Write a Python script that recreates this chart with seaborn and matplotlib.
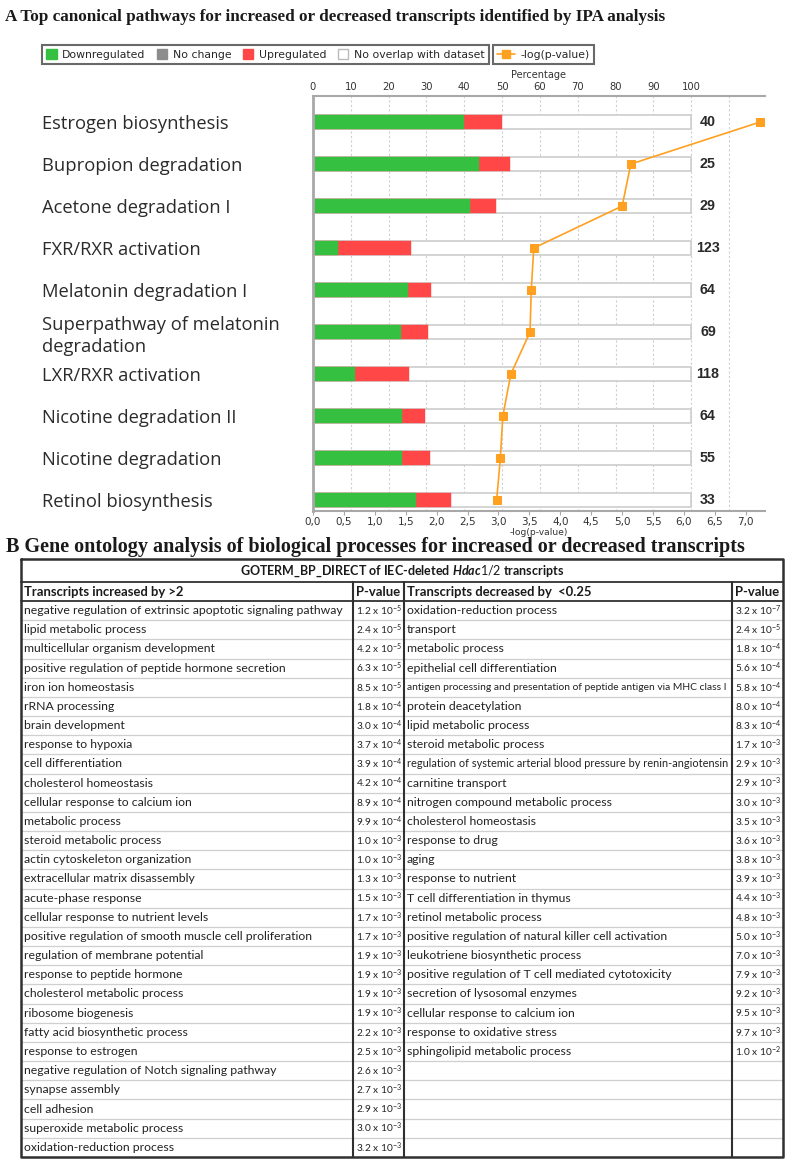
import numpy as np
import pandas as pd
import matplotlib
matplotlib.use("Agg")
import matplotlib.pyplot as plt
import seaborn as sns
from matplotlib.lines import Line2D
from matplotlib.patches import Patch

# ---------------- Panel A data (IPA canonical pathways) ----------------
pathways = ["Estrogen biosynthesis", "Bupropion degradation", "Acetone degradation I",
            "FXR/RXR activation", "Melatonin degradation I",
            "Superpathway of melatonin\ndegradation", "LXR/RXR activation",
            "Nicotine degradation II", "Nicotine degradation", "Retinol biosynthesis"]
pct_down = [40.0, 44.0, 41.4, 6.5, 25.0, 23.2, 11.0, 23.4, 23.6, 27.3]
pct_up = [10.0, 8.0, 6.9, 19.5, 6.3, 7.2, 14.4, 6.2, 7.3, 9.1]
n_molecules = [40, 25, 29, 123, 64, 69, 118, 64, 55, 33]
neg_log_p = [7.23, 5.14, 5.00, 3.57, 3.53, 3.51, 3.20, 3.07, 3.03, 2.97]
pct_ticks = [0, 10, 20, 30, 40, 50, 60, 70, 80, 90, 100, 110]
logp_ticks = [0, 0.5, 1, 1.5, 2, 2.5, 3, 3.5, 4, 4.5, 5, 5.5, 6, 6.5, 7]
legend_labels = ["Downregulated", "No change", "Upregulated", "No overlap with dataset"]

# ---------------- Panel B data (GO biological processes) ----------------
up_terms = ["negative regulation of extrinsic apoptotic signaling pathway",
            "lipid metabolic process", "multicellular organism development",
            "positive regulation of peptide hormone secretion", "iron ion homeostasis",
            "rRNA processing", "brain development", "response to hypoxia",
            "cell differentiation", "cholesterol homeostasis",
            "cellular response to calcium ion", "metabolic process",
            "steroid metabolic process", "actin cytoskeleton organization",
            "extracellular matrix disassembly", "acute-phase response",
            "cellular response to nutrient levels",
            "positive regulation of smooth muscle cell proliferation",
            "regulation of membrane potential", "response to peptide hormone",
            "cholesterol metabolic process", "ribosome biogenesis",
            "fatty acid biosynthetic process", "response to estrogen",
            "negative regulation of Notch signaling pathway", "synapse assembly",
            "cell adhesion", "superoxide metabolic process", "oxidation-reduction process"]
up_pvals = [1.2e-5, 2.4e-5, 4.2e-5, 6.3e-5, 8.5e-5, 1.8e-4, 3.0e-4, 3.7e-4, 3.9e-4,
            4.2e-4, 8.9e-4, 9.9e-4, 1.0e-3, 1.0e-3, 1.3e-3, 1.5e-3, 1.7e-3, 1.7e-3,
            1.9e-3, 1.9e-3, 1.9e-3, 1.9e-3, 2.2e-3, 2.5e-3, 2.6e-3, 2.7e-3, 2.9e-3,
            3.0e-3, 3.2e-3]
down_terms = ["oxidation-reduction process", "transport", "metabolic process",
              "epithelial cell differentiation",
              "antigen processing and presentation of peptide antigen via MHC class I",
              "protein deacetylation", "lipid metabolic process",
              "steroid metabolic process",
              "regulation of systemic arterial blood pressure by renin-angiotensin",
              "carnitine transport", "nitrogen compound metabolic process",
              "cholesterol homeostasis", "response to drug", "aging",
              "response to nutrient", "T cell differentiation in thymus",
              "retinol metabolic process",
              "positive regulation of natural killer cell activation",
              "leukotriene biosynthetic process",
              "positive regulation of T cell mediated cytotoxicity",
              "secretion of lysosomal enzymes", "cellular response to calcium ion",
              "response to oxidative stress", "sphingolipid metabolic process"]
down_pvals = [3.2e-7, 2.4e-5, 1.8e-4, 5.6e-4, 5.8e-4, 8.0e-4, 8.3e-4, 1.7e-3, 2.9e-3,
              2.9e-3, 3.0e-3, 3.5e-3, 3.6e-3, 3.8e-3, 3.9e-3, 4.4e-3, 4.8e-3, 5.0e-3,
              7.0e-3, 7.9e-3, 9.2e-3, 9.5e-3, 9.7e-3, 1.0e-2]

GREEN = "#35c042"
RED = "#ff4747"
ORANGE = "#ffa020"
GREY_AX = "#a8a8a8"

W, H = 794, 1168


def fmt_p(p):
    """Format a p-value as 'm.m x 10^e' with a superscript exponent."""
    mant, exp = f"{p:.1e}".split("e")
    return f"{mant} x 10$^{{\\mathregular{{{int(exp)}}}}}$"


sns.set_theme(style="white")
plt.rcParams["font.family"] = ["DejaVu Sans"]
plt.rcParams["mathtext.fontset"] = "custom"
plt.rcParams["mathtext.rm"] = "Lato"
plt.rcParams["mathtext.it"] = "Lato:italic:bold"
plt.rcParams["mathtext.bf"] = "Lato:bold"

fig = plt.figure(figsize=(W / 100, H / 100), dpi=100)
renderer = fig.canvas.get_renderer()

# ---------------- Panel A: stacked bars + -log(p) line ----------------
ax_l, ax_r, ax_t, ax_b = 313, 765, 96, 511
ax = fig.add_axes([ax_l / W, 1 - ax_b / H, (ax_r - ax_l) / W, (ax_b - ax_t) / H])

df = pd.DataFrame({"pathway": pathways, "down": pct_down, "up": pct_up})
df["total"] = 100
df["down_up"] = df["down"] + df["up"]

bar_w = 0.34
sns.barplot(data=df, x="total", y="pathway", orient="h", color="white",
            edgecolor="#cdcdcd", linewidth=1.2, width=bar_w, saturation=1, ax=ax)
sns.barplot(data=df, x="down_up", y="pathway", orient="h", color=RED,
            edgecolor=RED, linewidth=0.3, width=bar_w, saturation=1, ax=ax)
sns.barplot(data=df, x="down", y="pathway", orient="h", color=GREEN,
            edgecolor=GREEN, linewidth=0.3, width=bar_w, saturation=1, ax=ax)

# number of molecules in each pathway, right of the bars
count_txt = ax.bar_label(ax.containers[0], labels=[str(n) for n in n_molecules],
                         padding=12, fontsize=10.3, fontweight="bold", color="#2a2a2a",
                         family="Liberation Sans")
for t in count_txt:
    t.set_horizontalalignment("center")

ax2 = ax.twiny()
sns.lineplot(x=neg_log_p, y=pathways, sort=False, orient="y", color=ORANGE,
             marker="s", markersize=6.2, markeredgecolor=ORANGE, linewidth=1.2,
             legend=False, ax=ax2)

ax.set_xlim(0, 119.5)
ax2.set_xlim(0, 7.31)
ax.set_ylim(9.26, -0.62)

# top percentage axis
ax.xaxis.tick_top()
ax.xaxis.set_label_position("top")
ax.set_xticks(pct_ticks)
ax.set_xticklabels([str(v) if v <= 100 else "" for v in pct_ticks])
ax.tick_params(axis="x", length=0, pad=3, labelsize=7.2, labelcolor="#333333")
ax.set_xlabel("Percentage", fontsize=7, color="#333333", labelpad=3)
ax.xaxis.grid(True, linestyle=(0, (2, 2)), color="#cfcfcf", linewidth=0.8)
ax.yaxis.grid(False)
ax.set_axisbelow(True)

# left pathway labels
ax.set_ylabel("")
ax.tick_params(axis="y", length=0, pad=(ax_l - 42) * 0.72)
for lab in ax.get_yticklabels():
    lab.set_horizontalalignment("left")
    lab.set_multialignment("left")
    lab.set_fontfamily("Open Sans")
    lab.set_fontsize(13.2)
    lab.set_linespacing(1.3)
    lab.set_color("#2b2b2b")

for s in ["right", "bottom"]:
    ax.spines[s].set_visible(False)
ax.spines["top"].set_color(GREY_AX)
ax.spines["top"].set_linewidth(1.5)
ax.spines["left"].set_color(GREY_AX)
ax.spines["left"].set_linewidth(2)

# bottom -log(p-value) axis
ax2.xaxis.tick_bottom()
ax2.xaxis.set_label_position("bottom")
ax2.set_xticks(logp_ticks)
ax2.set_xticklabels([f"{v:.1f}".replace(".", ",") for v in logp_ticks])
ax2.tick_params(axis="x", length=3, width=0.8, color=GREY_AX, pad=1.5,
                labelsize=7.5, labelcolor="#333333")
ax2.set_xlabel("-log(p-value)", fontsize=6.6, color="#333333", labelpad=0.5)
ax2.grid(False)
for s in ["top", "left", "right"]:
    ax2.spines[s].set_visible(False)
ax2.spines["bottom"].set_color(GREY_AX)
ax2.spines["bottom"].set_linewidth(1.5)

# legends (two boxed groups)
handles1 = [Patch(fc=GREEN, ec=GREEN), Patch(fc="#8c8c8c", ec="#8c8c8c"),
            Patch(fc=RED, ec=RED), Patch(fc="white", ec="#bbbbbb")]
leg_kw = dict(loc="upper left", frameon=True, fancybox=False, edgecolor="#444444",
              fontsize=7.8, handlelength=0.95, handleheight=0.95, handletextpad=0.5,
              borderpad=0.4, borderaxespad=0)
leg1 = fig.legend(handles1, legend_labels, ncol=4, columnspacing=1.08,
                  bbox_to_anchor=(42 / W, 1 - 45 / H), **leg_kw)
leg1.get_frame().set_linewidth(1.5)
leg2 = fig.legend([Line2D([0], [0], color=ORANGE, marker="s", markersize=5.5, lw=1.2)],
                  ["-log(p-value)"], bbox_to_anchor=(493 / W, 1 - 45 / H),
                  **{**leg_kw, "handlelength": 1.6})
leg2.get_frame().set_linewidth(1.5)

# ---------------- Panel B: GO table drawn in pixel coordinates ----------------
tab = fig.add_axes([0, 0, 1, 1])
tab.set_xlim(0, W)
tab.set_ylim(H, 0)
tab.axis("off")

tab.text(5, 17, "A Top canonical pathways for increased or decreased transcripts identified by IPA analysis",
         family="Liberation Serif", fontweight="bold", fontsize=12.3, va="center", color="#1a1a1a")
tab.text(6, 547, "B Gene ontology analysis of biological processes for increased or decreased transcripts",
         family="Liberation Serif", fontweight="bold", fontsize=14.5, va="center", color="#1a1a1a")

x_l, x_c1, x_c2, x_c3, x_r = 21, 353, 404, 732, 783
y_top, y_h1, y_h2 = 559, 582, 601
row_h = 19.17
n_rows = max(len(up_terms), len(down_terms))
y_bot = y_h2 + n_rows * row_h
dark = "#303030"

for i in range(1, n_rows):
    y = y_h2 + i * row_h
    tab.plot([x_l, x_r], [y, y], color="#cfcfcf", lw=0.9)
tab.plot([x_l, x_r], [y_h1, y_h1], color=dark, lw=1.3)
tab.plot([x_l, x_r], [y_h2, y_h2], color=dark, lw=1.3)
for x in [x_c1, x_c2, x_c3]:
    tab.plot([x, x], [y_h1, y_bot], color=dark, lw=1.5)
tab.plot([x_l, x_r, x_r, x_l, x_l], [y_top, y_top, y_bot, y_bot, y_top], color=dark, lw=1.8)

hdr = dict(family="Lato", fontweight="bold", fontsize=9.4, va="center", color="#1a1a1a")
tab.text((x_l + x_r) / 2, (y_top + y_h1) / 2 + 1,
         "GOTERM_BP_DIRECT of IEC-deleted $\\mathit{Hdac1/2}$ transcripts",
         ha="center", **{**hdr, "fontsize": 9.0})
hy = (y_h1 + y_h2) / 2
tab.text(x_l + 3, hy, "Transcripts increased by >2", **hdr)
tab.text(x_c1 + 3, hy, "P-value", **hdr)
tab.text(x_c2 + 3, hy, "Transcripts decreased by  <0.25", **hdr)
tab.text(x_c3 + 3, hy, "P-value", **hdr)

for col_x, p_x, terms, pvals in [(x_l, x_c1, up_terms, up_pvals),
                                 (x_c2, x_c3, down_terms, down_pvals)]:
    for i, (term, p) in enumerate(zip(terms, pvals)):
        yc = y_h2 + (i + 0.5) * row_h
        txt = tab.text(col_x + 3, yc, term, family="Lato", fontsize=8.8, va="center",
                       color="#222222")
        # shrink long terms so they fit inside their cell
        avail = p_x - col_x - 8
        width = txt.get_window_extent(renderer=renderer).width
        if width > avail:
            txt.set_fontsize(8.8 * avail / width)
        tab.text(p_x + 3, yc, fmt_p(p), family="Lato", fontsize=7.3, va="center",
                 color="#222222")

fig.savefig("out.png", dpi=100)
